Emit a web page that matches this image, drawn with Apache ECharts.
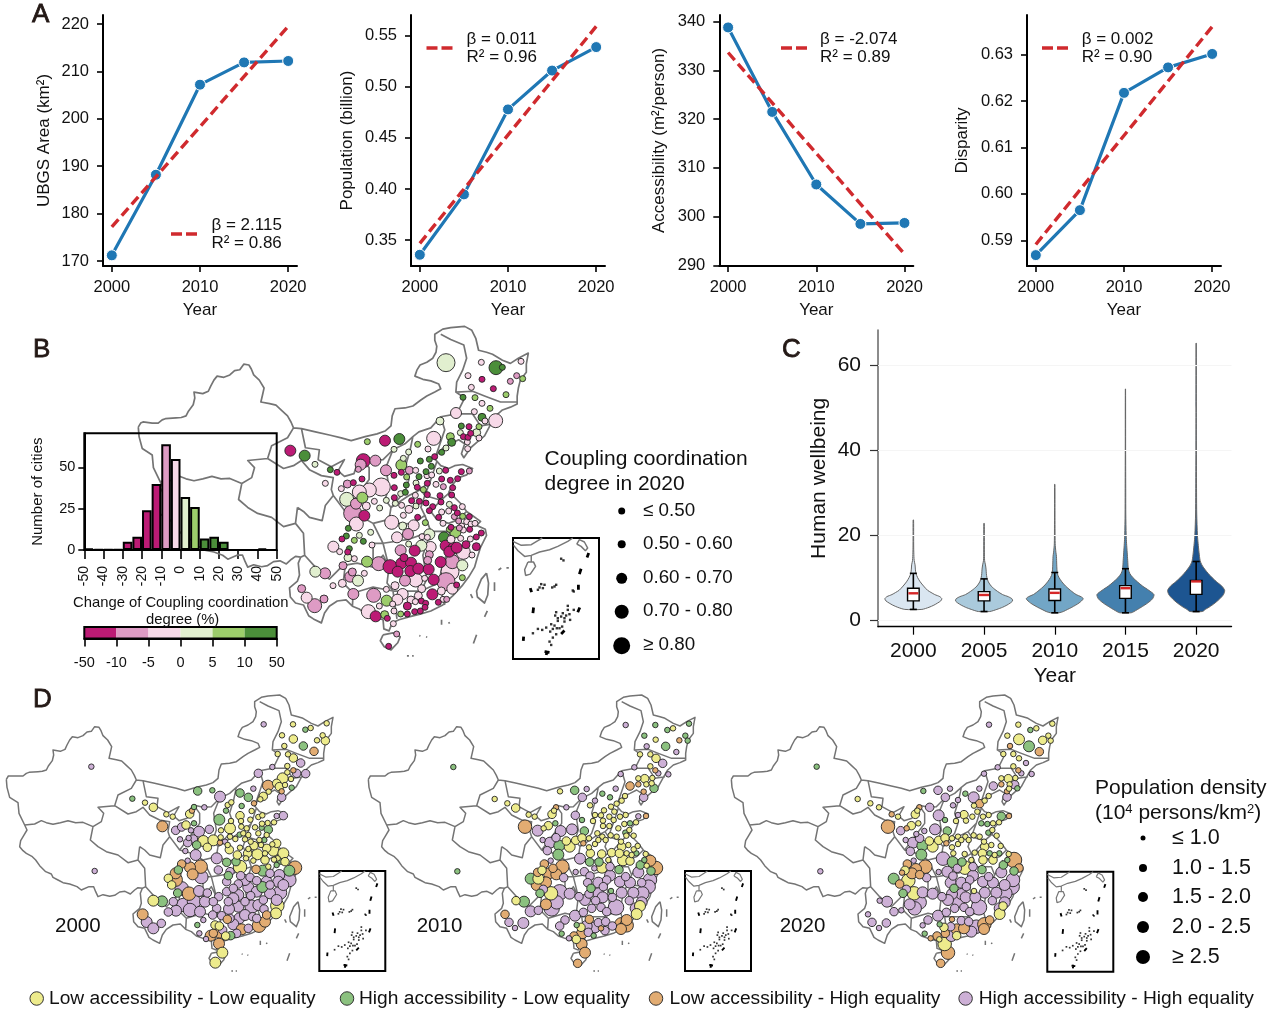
<!DOCTYPE html>
<html>
<head>
<meta charset="utf-8">
<style>html,body{margin:0;padding:0;background:#fff}#c{width:1268px;height:1009px}</style>
<script src="https://cdn.jsdelivr.net/npm/echarts@6/dist/echarts.min.js"></script>
</head>
<body>
<div id="c"></div>
<script>
/* ---------- Panel A ---------- */
const years = [2000, 2005, 2010, 2015, 2020];
const ubgsArea = [171.2, 188.2, 207.2, 211.9, 212.2];
const ubgsTrend = [177.2, 219.5];
const population = [0.3356, 0.3947, 0.4779, 0.5159, 0.5389];
const populationTrend = [0.3468, 0.5591];
const accessibility = [338.85, 321.5, 306.6, 298.5, 298.7];
const accessibilityTrend = [333.7, 292.3];
const disparity = [0.5868, 0.5965, 0.6218, 0.6273, 0.6302];
const disparityTrend = [0.5891, 0.6361];
const ubgsTicks = [170, 180, 190, 200, 210, 220];
const populationTicks = [0.35, 0.40, 0.45, 0.50, 0.55];
const accessibilityTicks = [290, 300, 310, 320, 330, 340];
const disparityTicks = [0.59, 0.60, 0.61, 0.62, 0.63];
const yearTicks = [2000, 2010, 2020];

/* ---------- Panel B histogram ---------- */
const histBins = [-47.5,-42.5,-37.5,-32.5,-27.5,-22.5,-17.5,-12.5,-7.5,-2.5,2.5,7.5,12.5,17.5,22.5,27.5,32.5,37.5,42.5,47.5];
const histCounts = [1,0.4,0.4,0.4,5,8,24,40,64,55,32,26,7,8,5,0,0,0,1,0];
const histClass = [0,0,0,0,0,0,0,0,1,2,3,4,5,5,5,5,5,5,5,5];
const histTicks = [-50,-40,-30,-20,-10,0,10,20,30,40,50];
const colorbarLabels = ['-50','-10','-5','0','5','10','50'];
const changePalette = ['#BC1B75','#DE9BC4','#F7D9E8','#E1EFCF','#9CCD6B','#4B8E3A'];

/* ---------- Panel C ---------- */
const violinYears = ['2000','2005','2010','2015','2020'];
const violinLevels2000 = [2.5,3,3.5,4,4.5,5,5.5,6,6.5,7,8,9,10,11,12,13,14,15,17,20,23.6];
const violinDensity2000 = [.3,.55,.72,.85,.96,1,.93,.75,.62,.5,.36,.24,.15,.09,.07,.06,.03,.02,.012,.01,.008];
const violinLevels2005 = [2,2.5,3,3.5,4,4.5,5,5.5,6,7,8,9,10,11,12,13,14,16,22.8];
const violinDensity2005 = [.2,.45,.65,.8,.92,1,.98,.85,.65,.42,.25,.15,.1,.08,.07,.05,.02,.012,.008];
const violinLevels2010 = [1.7,2,2.5,3,4,5,5.5,6,7,8,9,10,11,13,15,16,18,25,32];
const violinDensity2010 = [.15,.3,.45,.6,.85,1,.92,.75,.55,.38,.25,.15,.09,.07,.06,.04,.015,.008,.006];
const violinLevels2015 = [1.7,2,3,4,5,6,7,8,9,10,11,12,14,16,18,20,25,30,40,54.5];
const violinDensity2015 = [.2,.3,.55,.78,.95,1,.82,.6,.42,.26,.15,.1,.08,.06,.04,.025,.012,.01,.006,.004];
const violinLevels2020 = [2,2.5,3,4,5,6,7,8,9,10,11,12,13,14,16,18,20,25,30,40,50,65.3];
const violinDensity2020 = [.22,.32,.45,.66,.83,.96,1,.9,.72,.56,.42,.3,.2,.14,.1,.07,.045,.02,.014,.008,.006,.004];
const boxLow = [2.5,2.0,1.7,1.7,2.0];
const boxQ1 = [4.5,4.5,4.6,5.1,6.05];
const boxMid = [6.3,5.9,6.4,7.5,9.1];
const boxQ3 = [7.5,6.7,7.3,8.1,9.3];
const boxHigh = [11,9.7,11.2,12.1,13.8];
const wellbeingTicks = [0,20,40,60];
const violinFill = ['#DAE6F1','#AACADC','#72A6C6','#4480AE','#1D5591'];

/* ---------- Maps: outline polylines, in map units ---------- */
const outlineBorder = [[10,268],[16,258],[22,255],[45,258],[60,258],[70,250],[78,247],[105,245],[118,244],[130,240],[136,228],[148,212],[152,195],[150,180],[172,184],[186,178],[192,165],[200,150],[208,140],[225,143],[240,137],[252,126],[265,124],[275,110],[288,112],[294,122],[300,137],[314,150],[326,170],[322,188],[318,205],[340,209],[356,213],[370,226],[385,240],[394,256],[400,270],[420,272],[455,280],[490,288],[520,295],[545,302],[580,292],[610,285],[630,278],[645,265],[648,240],[655,222],[680,220],[700,215],[720,200],[735,190],[755,180],[770,172],[765,160],[745,152],[725,148],[705,140],[710,125],[718,112],[735,105],[750,95],[758,80],[760,65],[755,50],[755,35],[775,22],[795,18],[830,15],[848,25],[858,45],[865,75],[885,80],[900,85],[925,100],[945,108],[965,95],[990,82],[985,110],[985,130],[970,150],[965,170],[962,190],[962,210],[945,218],[925,225],[908,240],[895,262],[880,290],[862,305],[845,320],[828,345],[822,335],[830,310],[815,300],[795,310],[778,318],[762,335],[755,348],[770,365],[790,372],[805,365],[825,362],[850,372],[835,388],[815,395],[800,412],[790,432],[805,445],[820,460],[835,480],[852,492],[870,505],[860,515],[882,525],[885,540],[870,570],[862,595],[855,620],[840,645],[825,665],[800,692],[775,715],[745,730],[718,738],[690,745],[665,752],[648,760],[640,780],[627,775],[625,752],[600,745],[580,738],[565,725],[548,718],[532,702],[510,705],[490,718],[478,735],[470,760],[450,750],[438,742],[425,715],[405,710],[392,695],[390,672],[410,655],[415,640],[412,610],[418,595],[405,593],[395,600],[382,612],[366,604],[350,606],[335,616],[320,619],[300,614],[285,620],[278,605],[272,590],[258,590],[235,600],[222,590],[200,582],[180,578],[165,570],[150,562],[145,552],[128,545],[110,527],[98,510],[88,500],[70,490],[60,482],[50,470],[53,452],[62,437],[72,420],[65,405],[48,370],[45,338],[20,322],[12,292],[10,268]];
const outlineProvinces = [
 [[65,405],[95,402],[115,392],[130,398],[150,403],[172,398],[195,392],[218,398],[240,397],[270,410]],
 [[270,410],[295,395],[302,370],[285,352],[335,347]],
 [[335,347],[345,315],[385,295],[400,270]],
 [[270,410],[262,450],[285,470],[310,485],[345,495],[375,518],[405,510],[410,470]],
 [[405,510],[425,535],[428,590],[418,595]],
 [[335,347],[375,372],[400,365],[420,352],[440,375],[470,390],[500,395],[495,425],[500,440],[480,465],[472,503],[440,495],[425,480],[410,470]],
 [[420,272],[430,320],[465,325],[462,350],[495,368],[528,350],[512,378],[528,392],[552,385],[560,360],[572,345],[600,352],[625,350],[650,325],[680,310],[700,292],[715,280],[745,270],[770,242],[810,235],[830,195],[808,180],[810,155],[825,125],[835,95],[828,62],[795,48],[770,35]],
 [[808,180],[850,178],[880,190],[920,205],[960,205]],
 [[810,235],[850,235],[870,265],[900,260]],
 [[770,242],[780,275],[755,348]],
 [[700,292],[692,330],[680,370],[690,400],[680,430],[645,470]],
 [[760,355],[745,400],[720,425]],
 [[650,325],[632,370],[640,420],[630,450],[645,470]],
 [[572,345],[590,370],[590,400],[575,420],[560,440],[530,480]],
 [[500,440],[530,480],[565,490],[600,510],[640,500],[645,470]],
 [[645,470],[690,440],[720,425],[730,440],[720,470],[730,490],[700,510],[672,512],[640,500]],
 [[745,400],[730,440],[770,452],[795,430]],
 [[770,452],[745,480],[760,500],[790,510],[815,500],[835,480]],
 [[730,490],[745,530],[790,530],[800,555],[825,510]],
 [[600,510],[625,560],[690,550],[745,530]],
 [[745,530],[725,590],[735,650],[720,680]],
 [[625,560],[640,620],[635,660],[650,680]],
 [[800,555],[775,610],[765,660],[780,715]],
 [[850,590],[800,585]],
 [[650,680],[720,680],[765,660]],
 [[650,680],[660,750]],
 [[548,718],[550,685],[600,670],[650,680]],
 [[530,615],[560,610],[600,620],[625,590],[640,620]],
 [[600,620],[600,560],[625,560]],
 [[428,590],[455,620],[490,650],[520,620],[530,615]],
 [[530,615],[525,660],[550,685]]
];
const outlineIslands = [
 [[885,635],[872,650],[860,680],[862,695],[880,710],[888,690],[890,660],[885,635]],
 [[625,790],[650,785],[668,795],[662,810],[645,828],[628,820],[618,805],[625,790]],
 [[845,688],[850,698]],
 [[915,627],[922,622]],[[935,622],[941,622]],[[905,658],[905,680]],[[887,730],[880,745]],[[860,790],[852,812]],
 [[772,752],[772,765]],[[790,758],[792,762]],[[716,792],[719,793]],[[733,795],[736,796]],[[685,843],[690,843]],[[698,843],[702,843]]
];

/* ---------- South China Sea inset, in inset units ---------- */
const insetCoast = [
 [[2,22],[15,38],[35,55],[55,52],[80,42],[110,35],[135,25],[165,10],[180,0]],
 [[0,10],[25,22],[55,20],[75,8],[88,0]],
 [[55,52],[55,72]],
 [[45,72],[62,72],[68,85],[52,108],[38,112],[35,95],[45,72]],
 [[192,18],[200,5],[215,12],[225,30],[218,38],[205,25],[192,18]]
];
const insetDashes = [
 [[228,45],[223,58]],[[205,92],[200,108]],[[52,150],[56,162]],[[197,140],[197,155]],[[62,208],[60,225]],[[201,208],[195,222]],[[32,295],[31,308]],[[155,277],[145,287]],[[95,340],[110,342]],[[100,350],[103,337]]
];
const insetIslets = [[145,62],[152,67],[180,157],[183,160],[165,203],[183,215],[170,228],[130,222],[127,232],[135,240],[145,235],[150,225],[160,232],[172,245],[155,250],[135,248],[125,262],[115,258],[100,268],[88,275],[75,272],[60,285],[112,280],[120,272],[132,270],[148,265],[130,288],[120,298],[110,310],[115,320],[140,270],[165,215],[155,240],[90,150],[85,138],[95,140],[80,148],[125,145],[118,148],[130,140],[75,155]];

/* ---------- Panel B cities [x, y, sizeClass], one list per change class ---------- */
const couplingStrongDrop = [[636,178,1],[670,206,1],[597,320,1],[580,350,1],[594,352,1],[602,340,1],[345,362,3],[61,392,3],[201,457,1],[280,422,4],[494,410,1],[394,457,1],[527,451,1],[574,455,1],[372,466,1],[515,477,1],[541,481,1],[563,476,1],[250,488,1],[276,477,1],[472,490,1],[548,503,1],[442,502,1],[373,503,1],[472,524,1],[510,527,1],[545,525,1],[373,533,1],[425,542,1],[448,544,1],[468,549,1],[488,560,1],[513,546,1],[553,563,1],[478,572,1],[562,579,1],[283,587,3],[443,592,1],[506,592,1],[598,590,1],[599,628,1],[634,639,1],[543,622,1],[216,657,1],[619,651,1],[527,677,3],[551,683,3],[538,695,3],[560,683,3],[434,692,3],[588,674,2],[619,680,2],[233,696,1],[402,713,2],[394,730,3],[360,740,4],[423,728,3],[383,755,3],[421,753,3],[445,746,3],[476,748,3],[512,726,3],[491,779,3],[560,795,1],[487,823,3],[317,889,3],[352,895,1],[454,843,1],[467,850,1],[412,858,2],[505,847,1],[412,882,1],[434,875,1],[451,873,1],[465,862,1],[356,979,1]];
const couplingMildDrop = [[740,167,1],[721,184,1],[272,434,3],[265,448,1],[316,422,3],[348,451,3],[418,451,2],[598,453,1],[232,492,2],[520,500,1],[258,551,3],[248,580,5],[553,590,1],[566,603,1],[568,624,1],[414,642,3],[392,691,3],[478,704,2],[473,721,2],[326,731,4],[547,725,4],[219,737,2],[247,756,2],[241,770,3],[165,760,3],[95,806,2],[162,837,2],[134,857,4],[405,782,3],[528,785,5],[250,822,3],[311,826,4],[530,838,1],[380,942,1]];
const couplingSlightDrop = [[634,127,1],[753,124,1],[594,167,1],[604,202,1],[636,250,1],[613,275,1],[558,279,3],[645,303,1],[677,302,4],[627,354,1],[491,355,4],[592,366,1],[593,386,1],[474,387,1],[437,451,1],[471,467,1],[485,465,1],[166,490,1],[214,506,1],[498,493,1],[334,501,5],[298,510,4],[268,516,4],[436,526,1],[313,544,1],[395,556,1],[577,560,1],[289,558,2],[417,568,2],[515,576,1],[536,573,1],[400,586,1],[259,612,4],[365,607,4],[431,616,3],[519,610,1],[575,618,1],[590,605,1],[603,612,1],[615,610,1],[580,630,1],[381,652,3],[543,658,2],[190,680,3],[209,695,1],[306,675,1],[456,650,1],[472,652,1],[601,657,1],[482,681,3],[572,655,1],[580,697,4],[253,716,1],[606,705,1],[283,760,1],[217,790,2],[189,797,1],[110,833,3],[437,780,4],[540,755,5],[464,775,1],[455,806,2],[547,806,3],[375,797,2],[349,808,1],[398,822,3],[514,813,2],[445,827,2],[382,839,3],[295,875,4],[328,858,1],[423,840,2],[436,845,1],[368,852,1],[372,873,1],[519,838,1],[370,911,1]];
const couplingSlightRise = [[528,128,5],[510,303,2],[571,338,1],[620,338,2],[528,384,1],[372,388,1],[416,396,1],[135,433,1],[400,415,1],[508,453,1],[438,489,1],[392,521,1],[230,538,4],[349,541,1],[376,550,1],[538,553,1],[329,564,1],[438,558,1],[398,618,2],[302,637,1],[478,643,3],[268,646,1],[416,672,1],[454,677,3],[234,713,2],[577,736,3],[264,782,3],[136,755,3]];
const couplingMildRise = [[758,176,1],[615,233,1],[708,224,1],[660,265,1],[627,320,1],[541,350,2],[443,373,1],[292,365,1],[394,435,3],[410,471,1],[460,509,1],[277,533,3],[578,589,1],[466,608,1],[538,628,1],[556,637,3],[253,661,1],[291,725,3],[577,773,1],[350,842,3],[344,884,2],[392,882,1]];
const couplingStrongRise = [[678,143,4],[697,142,1],[579,232,1],[636,292,2],[574,318,1],[545,367,2],[515,397,1],[388,357,3],[104,407,3],[181,449,1],[451,423,1],[478,418,1],[484,439,1],[468,455,1],[447,470,1],[409,495,1],[406,517,1],[235,625,1],[229,648,1],[522,652,3],[280,664,1],[238,686,1]];

/* ---------- Panel D cities [x, y, sizeClass], one list per type and year ---------- */
const lowLow2000 = [[879,118,1],[932,129,1],[980,115,1],[846,151,1],[880,162,2],[968,151,1],[951,166,1],[976,167,2],[853,183,1],[833,207,1],[864,208,1],[880,219,2],[862,243,1],[862,262,1],[848,280,3],[830,295,2],[873,282,1],[838,305,2],[855,300,1],[806,320,1],[790,334,2],[435,353,1],[460,367,2],[781,343,1],[683,360,1],[694,352,1],[499,388,1],[518,395,1],[569,387,2],[720,392,2],[755,378,1],[775,396,1],[693,408,1],[723,408,1],[751,404,1],[787,391,1],[558,420,2],[803,414,1],[822,412,1],[786,416,1],[724,425,1],[690,430,3],[663,436,1],[740,430,1],[765,427,1],[610,468,3],[640,466,3],[662,457,1],[690,455,1],[730,445,1],[745,450,1],[775,445,1],[800,450,1],[706,462,1],[735,463,1],[752,470,1],[778,465,1],[622,487,2],[683,480,1],[762,482,2],[783,480,1],[817,478,1],[830,475,2],[688,494,2],[720,488,1],[745,492,1],[800,490,2],[820,497,3],[850,505,3],[712,510,2],[743,505,2],[772,508,3],[795,505,1],[833,520,1],[738,520,1],[760,527,1],[795,525,2],[822,524,1],[855,530,2],[720,546,4],[805,545,1],[505,580,2],[515,600,2],[832,662,4],[460,647,3],[828,685,3],[645,720,2],[658,723,2],[677,753,2],[667,803,3],[646,833,3]];
const highLow2000 = [[916,134,1],[910,183,2],[875,308,1],[593,318,2],[637,316,1],[720,324,2],[397,341,1],[745,337,2],[725,363,1],[582,366,1],[678,377,1],[658,404,3],[582,415,1],[785,428,1],[805,434,2],[719,449,1],[793,465,1],[590,480,2],[680,532,2],[708,530,2],[845,522,3],[535,555,2],[788,557,3],[830,540,1],[868,557,3],[685,572,2],[533,624,2],[787,606,3],[486,649,3],[592,720,1],[692,752,2]];
const lowHigh2000 = [[942,199,2],[880,256,1],[804,302,3],[845,319,1],[762,355,1],[576,377,1],[487,424,3],[660,473,1],[545,537,2],[527,565,3],[602,545,4],[570,547,3],[578,568,3],[768,553,2],[885,548,4],[527,584,4],[567,626,4],[428,688,3],[800,690,2],[682,703,2],[777,722,4],[795,710,3],[725,733,3],[640,745,2],[659,743,3],[632,752,3],[657,776,3]];
const highHigh2000 = [[791,118,1],[902,234,2],[817,246,1],[274,245,1],[775,265,2],[890,265,2],[917,266,2],[660,335,3],[760,311,1],[845,337,2],[613,367,1],[830,393,1],[850,392,2],[527,436,2],[545,426,2],[628,433,2],[573,436,1],[597,440,3],[540,463,1],[566,459,1],[580,462,2],[563,473,2],[675,470,1],[556,498,1],[587,510,3],[650,520,3],[563,527,1],[604,576,4],[655,555,2],[722,572,2],[750,577,2],[810,565,2],[838,570,3],[545,610,4],[597,618,3],[680,590,2],[745,607,3],[770,587,2],[800,590,3],[835,590,3],[868,585,4],[622,624,2],[656,635,2],[680,620,2],[715,597,2],[715,630,3],[752,632,2],[810,625,3],[840,623,4],[685,650,2],[715,665,3],[755,665,4],[790,645,2],[830,645,3],[550,660,4],[582,650,4],[570,675,4],[528,677,3],[505,681,2],[650,670,2],[687,672,3],[792,672,2],[638,690,2],[665,692,2],[718,700,3],[758,695,2],[440,711,3],[484,715,2],[460,730,3],[610,705,1],[700,718,3],[745,730,2],[668,735,2],[598,745,1],[710,745,2],[618,762,1],[284,558,1],[700,640,3],[735,650,2],[770,620,3],[775,660,3],[810,600,2],[690,700,2],[735,690,3],[640,650,2],[615,650,3],[600,680,3],[735,585,3],[700,610,2],[770,700,2],[850,600,3],[690,560,2],[520,650,2]];

const lowLow2010 = [[924,115,1],[872,149,1],[825,193,1],[856,193,1],[873,205,2],[856,229,1],[839,266,2],[820,265,1],[862,264,1],[844,283,1],[860,280,1],[585,304,1],[780,318,1],[770,332,1],[389,327,1],[427,340,1],[452,354,2],[675,346,1],[738,350,1],[755,341,1],[717,361,1],[690,375,1],[567,362,1],[561,373,2],[491,374,1],[509,380,1],[708,376,1],[733,380,1],[748,365,1],[765,380,1],[782,375,1],[550,407,2],[684,393,1],[714,392,1],[746,390,1],[778,402,1],[813,397,1],[536,415,1],[714,408,1],[733,408,1],[760,415,1],[793,420,1],[604,453,2],[614,470,3],[632,451,2],[651,444,2],[672,445,1],[697,430,1],[712,440,1],[737,436,1],[755,440,1],[784,437,1],[806,437,1],[672,472,1],[690,462,1],[700,450,1],[722,450,1],[768,455,1],[770,470,2],[790,465,1],[818,468,1],[806,478,1],[676,490,2],[710,492,2],[740,488,2],[763,490,2],[785,490,1],[800,495,1],[842,492,1],[730,510,1],[774,511,3],[795,513,2],[711,533,3],[845,527,1],[531,541,2],[520,566,3],[558,610,4],[453,632,2],[825,648,3],[815,672,3],[648,712,2],[634,748,2]];
const highLow2010 = [[871,105,1],[907,120,1],[972,101,1],[838,137,1],[961,137,1],[968,152,1],[902,169,2],[265,231,1],[867,295,2],[629,301,2],[712,311,1],[735,322,1],[571,400,1],[651,390,1],[795,400,1],[658,423,2],[781,428,1],[583,467,3],[814,490,1],[580,494,3],[674,516,2],[702,516,2],[826,525,2],[838,510,1],[762,539,2],[858,543,2],[497,566,3],[678,595,2],[525,610,2],[738,603,1],[477,635,3],[277,544,1],[635,705,1],[590,731,1],[686,737,1]];
const lowHigh2010 = [[943,151,1],[871,241,1],[795,288,2],[820,283,1],[836,305,1],[573,352,1],[843,378,1],[480,410,4],[655,460,1],[538,522,2],[856,512,3],[873,534,4],[592,530,4],[564,535,2],[518,547,2],[552,550,3],[574,553,3],[515,585,3],[543,577,3],[543,643,3],[420,673,2],[785,690,3],[769,703,4],[785,706,4],[768,717,3],[673,688,2],[708,715,1],[651,730,3],[627,738,2],[650,762,3],[660,788,3],[638,820,2]];
const highHigh2010 = [[782,105,1],[845,169,1],[934,186,1],[893,220,2],[808,232,1],[880,250,1],[767,252,1],[910,253,1],[665,297,1],[752,296,1],[652,322,2],[690,332,1],[836,322,2],[604,352,1],[631,376,2],[820,379,1],[518,422,3],[587,423,3],[621,418,3],[573,443,2],[533,450,1],[555,458,3],[547,482,2],[645,506,3],[557,512,1],[658,545,2],[688,535,1],[735,530,2],[596,563,2],[632,546,1],[675,558,2],[735,557,3],[782,560,2],[820,547,3],[725,570,2],[765,575,3],[795,578,3],[830,578,2],[855,570,4],[851,590,4],[668,578,2],[700,578,3],[715,590,2],[805,608,3],[535,598,2],[584,607,5],[614,611,3],[832,610,4],[770,608,3],[700,610,3],[672,612,2],[642,620,2],[660,630,3],[692,632,2],[713,622,3],[742,622,2],[793,632,2],[830,637,3],[575,637,4],[560,655,5],[753,652,5],[708,652,2],[680,655,2],[812,655,3],[497,664,3],[520,661,2],[655,667,2],[725,665,2],[630,677,3],[600,690,2],[432,697,2],[475,699,3],[450,714,1],[700,698,2],[722,695,2],[742,708,2],[690,712,3],[665,708,3],[584,708,2],[720,722,2],[670,727,2],[612,745,1]];

const lowLow2020 = [[871,104,1],[925,115,1],[973,101,1],[838,137,1],[873,148,3],[944,151,2],[961,137,1],[968,152,1],[826,192,1],[856,192,1],[873,205,1],[856,229,1],[841,266,2],[820,265,1],[862,264,1],[845,283,1],[843,296,1],[782,318,1],[770,332,1],[389,327,1],[427,340,1],[453,352,1],[738,347,1],[568,362,1],[562,373,2],[510,380,1],[708,374,2],[733,380,1],[748,365,1],[765,380,1],[782,375,1],[684,393,1],[550,407,2],[571,400,1],[714,392,1],[795,400,1],[813,397,1],[604,453,2],[614,470,3],[632,451,2],[651,444,2],[672,445,1],[690,440,1],[712,440,1],[737,436,1],[755,440,1],[793,420,1],[806,437,1],[672,472,1],[690,462,1],[700,450,1],[722,450,1],[768,455,1],[770,470,2],[790,465,1],[818,468,1],[676,490,1],[710,492,1],[740,488,1],[763,490,2],[800,495,1],[842,492,1],[730,510,1],[765,510,2],[795,510,2],[531,541,2],[711,533,4],[541,572,4],[738,603,1],[558,610,4],[825,648,2],[815,672,3],[648,712,2],[686,737,2],[634,748,1],[650,762,4]];
const highLow2020 = [[907,120,1],[903,169,3],[266,230,1],[868,295,1],[586,303,1],[712,311,1],[820,379,2],[651,390,1],[658,423,2],[760,400,1],[778,402,1],[781,428,1],[583,467,3],[580,494,3],[785,490,1],[814,490,1],[674,516,3],[702,516,2],[826,525,2],[838,510,1],[762,539,2],[858,543,2],[497,566,3],[678,595,2],[525,610,2],[635,703,1],[590,731,1]];
const lowHigh2020 = [[846,168,1],[934,185,2],[871,241,1],[820,283,1],[837,304,1],[755,341,2],[574,352,1],[491,373,1],[843,378,1],[480,410,4],[536,415,1],[655,460,1],[538,522,2],[858,510,5],[873,534,2],[592,530,4],[564,537,3],[522,548,1],[552,550,3],[575,554,2],[515,582,2],[785,690,2],[769,703,4],[768,717,3],[672,688,1],[686,718,3],[708,715,3],[652,730,2],[627,738,2],[608,745,1],[660,788,4],[638,820,2]];
const highHigh2020 = [[783,104,1],[894,219,1],[809,232,1],[880,250,1],[768,251,1],[911,252,1],[796,288,2],[860,284,2],[630,301,2],[666,296,1],[754,296,1],[652,322,2],[690,330,1],[737,322,3],[837,321,2],[605,352,2],[675,346,1],[632,376,3],[690,375,1],[518,422,2],[589,423,1],[621,418,3],[575,445,2],[533,450,1],[565,432,1],[555,458,3],[547,484,2],[645,506,4],[557,512,1],[658,545,3],[688,535,2],[735,530,2],[596,563,2],[632,546,1],[675,558,2],[735,557,3],[782,560,2],[820,547,3],[725,570,2],[765,575,3],[795,578,3],[830,585,3],[855,570,4],[851,590,5],[668,578,3],[700,578,3],[715,590,2],[805,608,3],[535,598,2],[584,607,3],[614,611,3],[832,610,4],[770,608,3],[700,612,3],[672,612,3],[642,620,2],[660,630,3],[692,632,4],[713,622,3],[742,622,3],[455,632,1],[477,635,3],[793,632,2],[830,637,3],[575,637,4],[545,643,3],[560,655,4],[753,652,5],[708,652,2],[680,655,2],[815,655,3],[498,665,2],[520,661,1],[655,667,2],[725,665,2],[420,673,1],[630,677,3],[600,690,2],[432,697,2],[475,699,2],[453,714,1],[745,710,4],[700,692,2],[722,695,2],[668,710,2],[584,706,1],[730,725,3],[670,738,3],[277,544,1]];

/* ---------- Legends ---------- */
const couplingLegend = ['≤ 0.50','0.50 - 0.60','0.60 - 0.70','0.70 - 0.80','≥ 0.80'];
const densityLegend = ['≤ 1.0','1.0 - 1.5','1.5 - 2.0','2.0 - 2.5','≥ 2.5'];
const typeLegend = ['Low accessibility - Low equality','High accessibility - Low equality','Low accessibility - High equality','High accessibility - High equality'];
const typePalette = ['#EDEB8C','#8BC17F','#E2AC72','#CDB0D6'];

/* ---------- Build ---------- */
const FONT = '"Liberation Sans", Arial, sans-serif';
const INK = '#111';
const grid = [], xAxis = [], yAxis = [], series = [], graphic = [];

function addGrid(g, x, y) { grid.push(g); xAxis.push(Object.assign({gridIndex: grid.length-1}, x)); yAxis.push(Object.assign({gridIndex: grid.length-1}, y)); return grid.length-1; }
function breakJoin(lines) { const out = []; lines.forEach((l,i)=>{ if(i) out.push(['-','-']); l.forEach(p=>out.push(p)); }); return out; }
function text(x,y,t,size,opt) { graphic.push({type:'text',x:x,y:y,z:50,style:Object.assign({text:t,font:size+'px '+FONT,fill:INK,textAlign:'left',textVerticalAlign:'middle'},opt||{})}); }
function dot(x,y,d,c) { graphic.push({type:'circle',x:x,y:y,z:50,shape:{r:d/2},style:{fill:c||'#000',stroke:c?'#333':'none',lineWidth:c?1:0}}); }

/* Panel A */
function linePanel(left, vals, trend, yMin, yMax, ticks, fmt, title, gap, lx, ly) {
  const solid = {show:true,lineStyle:{color:'#000',width:2}, onZero:false};
  const i = addGrid({left:left, top:15, width:194, height:251},
    {type:'value',min:1999,max:2021,splitLine:{show:false},axisLine:solid,
     axisTick:{show:true,length:6,lineStyle:{color:'#000',width:1.6},customValues:yearTicks},
     axisLabel:{customValues:yearTicks,fontFamily:FONT,fontSize:16.5,color:INK,margin:13,formatter:v=>String(v)},
     name:'Year',nameLocation:'middle',nameGap:36,nameTextStyle:{fontFamily:FONT,fontSize:17,color:INK}},
    {type:'value',min:yMin,max:yMax,splitLine:{show:false},axisLine:solid,
     axisTick:{show:true,length:6,lineStyle:{color:'#000',width:1.6},customValues:ticks},
     axisLabel:{customValues:ticks,fontFamily:FONT,fontSize:16.5,color:INK,margin:14,formatter:fmt},
     name:title,nameLocation:'middle',nameGap:gap,nameTextStyle:{fontFamily:FONT,fontSize:17,color:INK}});
  series.push({type:'line',xAxisIndex:i,yAxisIndex:i,data:years.map((y,k)=>[y,vals[k]]),symbol:'circle',symbolSize:11,showSymbol:true,z:3,
    lineStyle:{color:'#1F77B4',width:3.2},itemStyle:{color:'#1F77B4',borderColor:'#fff',borderWidth:1},silent:true});
  series.push({type:'line',xAxisIndex:i,yAxisIndex:i,data:[[2000,trend[0]],[2020,trend[1]]],symbol:'none',z:4,
    lineStyle:{color:'#D02A2E',width:3.4,type:[10,5]},silent:true});
  graphic.push({type:'line',z:50,shape:{x1:lx,y1:ly,x2:lx+27,y2:ly},style:{stroke:'#D02A2E',lineWidth:3.4,lineDash:[11,4]}});
}
linePanel(103, ubgsArea, ubgsTrend, 168.95, 221.9, ubgsTicks, v=>String(v), 'UBGS Area (km²)', 50, 171, 234);
linePanel(411, population, populationTrend, 0.3246, 0.5703, populationTicks, v=>v.toFixed(2), 'Population (billion)', 55, 426.5, 48);
linePanel(719.3, accessibility, accessibilityTrend, 289.86, 341.4, accessibilityTicks, v=>String(v), 'Accessibility (m²/person)', 51, 781, 48);
linePanel(1027, disparity, disparityTrend, 0.58445, 0.6386, disparityTicks, v=>v.toFixed(2), 'Disparity', 56, 1042, 48);
[[211.4,225,'β = 2.115'],[211.4,243,'R² = 0.86'],[466.5,39,'β = 0.011'],[466.5,57,'R² = 0.96'],[820,39,'β = -2.074'],[820,57,'R² = 0.89'],[1081.7,39,'β = 0.002'],[1081.7,57,'R² = 0.90']].forEach(t=>text(t[0],t[1],t[2],17));

/* Maps */
function outlineSeries(i, w) {
  series.push({type:'line',xAxisIndex:i,yAxisIndex:i,data:breakJoin([outlineBorder].concat(outlineProvinces,outlineIslands)),connectNulls:false,symbol:'none',z:1,
    lineStyle:{color:'#747474',width:w,join:'round'},silent:true,clip:false});
}
function cityAxes(mx,my){return [{type:'value',show:false,min:0,max:mx},{type:'value',show:false,min:0,max:my,inverse:true}];}
function citySeries(i, lists, palette, sizes) {
  [5,4,3,2,1].forEach(cls=>lists.forEach((l,k)=>{
    const d = l.filter(p=>p[2]===cls);
    if(!d.length) return;
    series.push({type:'scatter',xAxisIndex:i,yAxisIndex:i,data:d,z:5,clip:false,silent:true,symbol:'circle',
      symbolSize:sizes[cls-1],itemStyle:{color:palette[k],borderColor:'#222',borderWidth:0.9,opacity:1}});
  }));
}
function inset(left,top,w,h,dashW,isletSize,lw) {
  const a = cityAxes(259,362);
  const i = addGrid({left:left,top:top,width:w,height:h,show:true,backgroundColor:'#fff',borderColor:'#000',borderWidth:2,z:2},a[0],a[1]);
  series.push({type:'line',xAxisIndex:i,yAxisIndex:i,data:breakJoin(insetCoast),connectNulls:false,symbol:'none',z:3,lineStyle:{color:'#777',width:lw},silent:true});
  series.push({type:'line',xAxisIndex:i,yAxisIndex:i,data:breakJoin(insetDashes),connectNulls:false,symbol:'none',z:3,lineStyle:{color:'#000',width:dashW},silent:true});
  series.push({type:'scatter',xAxisIndex:i,yAxisIndex:i,data:insetIslets,symbol:'rect',symbolSize:isletSize,z:3,itemStyle:{color:'#000'},silent:true});
}

/* Panel B map */
(function(){
  const a = cityAxes(1020,870);
  const i = addGrid({left:134.3,top:320.4,width:1020*0.398,height:870*0.398},a[0],a[1]);
  outlineSeries(i,1.7);
  const b = cityAxes(810,1035);
  const j = addGrid({left:270,top:320,width:270,height:345},b[0],b[1]);
  citySeries(j,[couplingSlightDrop,couplingMildDrop,couplingSlightRise,couplingMildRise,couplingStrongRise,couplingStrongDrop],
    [changePalette[2],changePalette[1],changePalette[3],changePalette[4],changePalette[5],changePalette[0]],[6,8,11,14,18]);
  inset(513,538,86,121,2.8,2.4,1.5);
})();

/* Histogram */
(function(){
  const i = addGrid({left:84.3,top:433.3,width:192.4,height:116.7,show:true,borderColor:'#000',borderWidth:2,backgroundColor:'transparent',z:6},
    {type:'value',min:-50,max:50,interval:10,splitLine:{show:false},axisLine:{show:true,onZero:false,lineStyle:{color:'#000',width:2}},
     axisTick:{show:true,length:9,lineStyle:{color:'#000',width:1.6}},
     axisLabel:{rotate:90,fontFamily:FONT,fontSize:14,color:INK,margin:16,showMinLabel:true,showMaxLabel:true,hideOverlap:false,interval:0}},
    {type:'value',min:0,max:70.6,splitLine:{show:false},axisLine:{show:true,onZero:false,lineStyle:{color:'#000',width:2}},
     axisTick:{show:true,length:6,lineStyle:{color:'#000',width:1.6},customValues:[0,25,50]},
     axisLabel:{customValues:[0,25,50],fontFamily:FONT,fontSize:14.5,color:INK,margin:9,formatter:v=>String(v)},
     name:'Number of cities',nameLocation:'middle',nameGap:39,nameTextStyle:{fontFamily:FONT,fontSize:15,color:INK}});
  series.push({type:'bar',xAxisIndex:i,yAxisIndex:i,barWidth:9.62,z:7,silent:true,
    data:histBins.map((b,k)=>({value:[b,histCounts[k]],itemStyle:{color:changePalette[histClass[k]],borderColor:'#000',borderWidth:histCounts[k]?2:0}}))});
  text(180.8,603,'Change of Coupling coordination',14.8,{textAlign:'center'});
  text(182.7,619.5,'degree (%)',14.8,{textAlign:'center'});
  const j = addGrid({left:84.3,top:627,width:192.4,height:11.5,show:true,borderColor:'#000',borderWidth:2,z:6},
    {type:'value',min:0,max:6,interval:1,splitLine:{show:false},axisLine:{show:true,onZero:false,lineStyle:{color:'#000',width:2}},
     axisTick:{show:true,length:8,lineStyle:{color:'#000',width:1.6}},
     axisLabel:{fontFamily:FONT,fontSize:14.5,color:INK,margin:17,showMinLabel:true,showMaxLabel:true,formatter:v=>colorbarLabels[Math.round(v)]}},
    {type:'value',show:false,min:0,max:1});
  series.push({type:'bar',xAxisIndex:j,yAxisIndex:j,barWidth:32.1,z:5,silent:true,
    data:changePalette.map((c,k)=>({value:[k+0.5,1],itemStyle:{color:c}}))});
})();

text(544.5,459,'Coupling coordination',21);
text(544.5,484,'degree in 2020',21);
[7,8,11,14,17].forEach((d,k)=>{ const y=[511,544.3,578.3,611.7,645.7][k]; dot(621.7,y,d); text(643,y-0.5,couplingLegend[k],18.8); });

/* Panel C */
(function(){
  const i = addGrid({left:878,top:330,width:353.5,height:296.7},
    {type:'category',data:violinYears,splitLine:{show:false},axisLine:{show:true,onZero:false,lineStyle:{color:'#000',width:1.4}},
     axisTick:{show:true,length:8,alignWithLabel:true,lineStyle:{color:'#000',width:1.2}},
     axisLabel:{fontFamily:FONT,fontSize:21,color:INK,margin:14,interval:0},
     name:'Year',nameLocation:'middle',nameGap:39,nameTextStyle:{fontFamily:FONT,fontSize:21,color:INK}},
    {type:'value',min:-1.58,max:68.4,splitLine:{show:false},axisLine:{show:true,onZero:false,lineStyle:{color:'#666',width:1.5}},
     axisTick:{show:true,length:8,lineStyle:{color:'#333',width:1.2},customValues:wellbeingTicks},
     axisLabel:{customValues:wellbeingTicks,fontFamily:FONT,fontSize:21,color:INK,margin:17,formatter:v=>String(v)},
     name:'Human wellbeing',nameLocation:'middle',nameGap:48,nameTextStyle:{fontFamily:FONT,fontSize:21,color:INK}});
  const levels=[violinLevels2000,violinLevels2005,violinLevels2010,violinLevels2015,violinLevels2020];
  const dens=[violinDensity2000,violinDensity2005,violinDensity2010,violinDensity2015,violinDensity2020];
  series.push({type:'custom',xAxisIndex:i,yAxisIndex:i,z:3,silent:true,data:violinYears.map((y,k)=>[k]),
    markLine:{silent:true,symbol:'none',label:{show:false},lineStyle:{color:'#F5F5F5',width:1,type:'solid'},data:wellbeingTicks.map(t=>({yAxis:t}))},
    renderItem(p,api){
      const k=api.value(0), cx=api.coord([k,0])[0], hw=28.5, L=levels[k], D=dens[k];
      const pts=[];
      L.forEach((v,n)=>pts.push([cx-D[n]*hw, api.coord([k,v])[1]]));
      for(let n=L.length-1;n>=0;n--) pts.push([cx+D[n]*hw, api.coord([k,L[n]])[1]]);
      const Y=v=>api.coord([k,v])[1];
      const blk={stroke:'#000',lineWidth:1.6};
      return {type:'group',children:[
        {type:'polygon',shape:{points:pts,smooth:0.25},style:{fill:violinFill[k],stroke:'#666',lineWidth:1}},
        {type:'line',shape:{x1:cx,y1:Y(boxLow[k]),x2:cx,y2:Y(boxHigh[k])},style:blk},
        {type:'line',shape:{x1:cx-3.5,y1:Y(boxLow[k]),x2:cx+3.5,y2:Y(boxLow[k])},style:blk},
        {type:'line',shape:{x1:cx-3.5,y1:Y(boxHigh[k]),x2:cx+3.5,y2:Y(boxHigh[k])},style:blk},
        {type:'rect',shape:{x:cx-5.8,y:Y(boxQ3[k]),width:11.6,height:Y(boxQ1[k])-Y(boxQ3[k])},style:{fill:'#fff',stroke:'#000',lineWidth:1.4}},
        {type:'rect',shape:{x:cx-5,y:Y(boxMid[k])-1.2,width:10,height:2.4},style:{fill:'#D62728'}}
      ]};
    }});
})();

/* Panel D maps */
const dPalette = typePalette, dSizes = [5.5,8.5,11,13.5,15.5];
(function(){
  const a=cityAxes(1020,870);
  const m0=addGrid({left:3,top:690,width:340,height:290},a[0],a[1]); outlineSeries(m0,1.5);
  const c=cityAxes(1200,972);
  const c0=addGrid({left:0,top:685,width:400,height:324},c[0],c[1]);
  citySeries(c0,[highHigh2000,lowHigh2000,highLow2000,lowLow2000],[dPalette[3],dPalette[2],dPalette[1],dPalette[0]],dSizes);
  const a1=cityAxes(1020,870);
  const m1=addGrid({left:365,top:690,width:340,height:290},a1[0],a1[1]); outlineSeries(m1,1.5);
  citySeries(m1,[highHigh2010,lowHigh2010,highLow2010,lowLow2010],[dPalette[3],dPalette[2],dPalette[1],dPalette[0]],dSizes);
  const a2=cityAxes(1020,870);
  const m2=addGrid({left:728,top:690,width:340,height:290},a2[0],a2[1]); outlineSeries(m2,1.5);
  citySeries(m2,[highHigh2020,lowHigh2020,highLow2020,lowLow2020],[dPalette[3],dPalette[2],dPalette[1],dPalette[0]],dSizes);
  inset(319.3,871,66,100,1.9,1.7,1.2);
  inset(685,871,66,100,1.9,1.7,1.2);
  inset(1047.3,871.7,66,100,1.9,1.7,1.2);
})();
text(55,926,'2000',20.5); text(416.7,926,'2010',20.5); text(779.7,926,'2020',20.5);
[[36.7,49],[347,359],[656,669.5],[965.6,978.7]].forEach((p,k)=>{ dot(p[0],998.5,13.5,typePalette[k]); text(p[1],998.5,typeLegend[k],19.2); });
text(1095,788,'Population density',21);
graphic.push({type:'text',x:1095,y:813,z:50,style:{text:'(10{s|4} persons/km{s|2})',font:'21px '+FONT,fill:INK,textAlign:'left',textVerticalAlign:'middle',
  rich:{s:{fontSize:13,fontFamily:FONT,fill:INK,verticalAlign:'top',padding:[0,0,6,0]}}}});
[5,8,10,12,14].forEach((d,k)=>{ const y=[838,868,897,927,957][k]; dot(1143,y,d); text(1172,y,densityLegend[k],21.5); });

/* Panel letters */
[[32,15,'A'],[33,350,'B'],[782,350,'C'],[33,700,'D']].forEach(t=>text(t[0],t[1],t[2],26,{fill:'#231815',stroke:'#231815',lineWidth:0.8}));

const chart = echarts.init(document.getElementById('c'),null,{renderer:'canvas',width:1268,height:1009});
chart.setOption({animation:false,backgroundColor:'#fff',textStyle:{fontFamily:FONT},grid,xAxis,yAxis,series,graphic});
</script>
</body>
</html>
